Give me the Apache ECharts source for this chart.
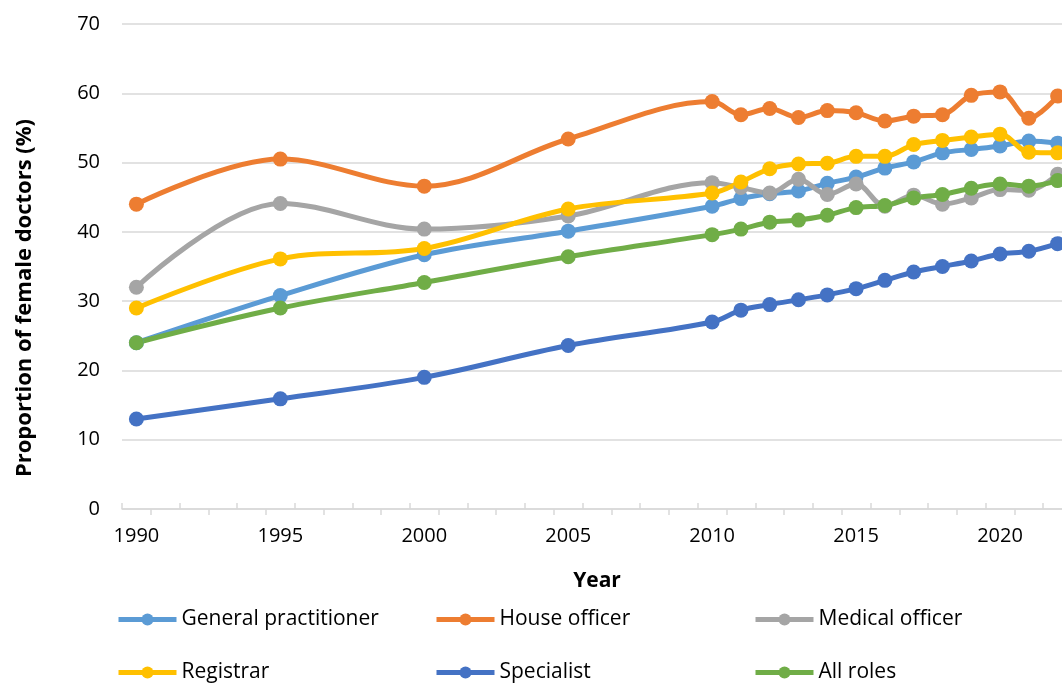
<!DOCTYPE html>
<html>
<head>
<meta charset="utf-8">
<script src="https://cdn.jsdelivr.net/npm/echarts@6/dist/echarts.min.js"></script>
<style>
  html, body { margin: 0; padding: 0; background: #fff; }
  #chart { width: 1062px; height: 683px; }
</style>
</head>
<body>
<div id="chart"></div>
<script>
// ---------- data ----------
const years = [];
for (let y = 1990; y <= 2022; y++) years.push(String(y));

const sampleYears = ['1990', '1995', '2000', '2005', '2010', '2011', '2012', '2013', '2014',
  '2015', '2016', '2017', '2018', '2019', '2020', '2021', '2022'];

const generalPractitioner = [24.0, 30.8, 36.7, 40.1, 43.7, 44.8, 45.5, 45.9, 47.0, 47.9, 49.2, 50.1, 51.4, 51.9, 52.4, 53.1, 52.8];
const houseOfficer        = [44.0, 50.5, 46.6, 53.4, 58.8, 56.9, 57.8, 56.5, 57.5, 57.2, 56.0, 56.7, 56.9, 59.7, 60.2, 56.4, 59.6];
const medicalOfficer      = [32.0, 44.1, 40.4, 42.3, 47.1, 46.4, 45.6, 47.6, 45.4, 46.9, 43.7, 45.3, 44.0, 44.9, 46.1, 46.0, 48.3];
const registrar           = [29.0, 36.1, 37.6, 43.3, 45.6, 47.2, 49.1, 49.8, 49.9, 50.9, 50.9, 52.6, 53.2, 53.7, 54.1, 51.5, 51.4];
const specialist          = [13.0, 15.9, 19.0, 23.6, 27.0, 28.7, 29.5, 30.2, 30.9, 31.8, 33.0, 34.2, 35.0, 35.8, 36.8, 37.2, 38.3];
const allRoles            = [24.0, 29.0, 32.7, 36.4, 39.6, 40.4, 41.4, 41.7, 42.4, 43.5, 43.8, 44.9, 45.4, 46.3, 46.9, 46.6, 47.4];

const yTicks = [0, 10, 20, 30, 40, 50, 60, 70];

const seriesDefs = [
  { name: 'General practitioner', values: generalPractitioner, color: '#5B9BD5' },
  { name: 'House officer',        values: houseOfficer,        color: '#ED7D31' },
  { name: 'Medical officer',      values: medicalOfficer,      color: '#A5A5A5' },
  { name: 'Registrar',            values: registrar,           color: '#FFC000' },
  { name: 'Specialist',           values: specialist,          color: '#4472C4' },
  { name: 'All roles',            values: allRoles,            color: '#70AD47' },
];

// legend slots (2 rows x 3 columns)
const legendPos = [
  [116, 609], [434, 609], [753, 609],
  [116, 662], [434, 662], [753, 662],
];

const FONT = '"Open Sans", Lato, sans-serif';
const GRID_C = '#D9D9D9';

const chart = echarts.init(document.getElementById('chart'), null, { renderer: 'canvas' });

const series = seriesDefs.map(s => ({
  name: s.name,
  type: 'line',
  smooth: 0.35,
  symbol: 'circle',
  symbolSize: 15,
  data: sampleYears.map((y, i) => [y, s.values[i]]),
  lineStyle: { color: s.color, width: 5 },
  itemStyle: { color: s.color },
  emphasis: { disabled: true },
}));

const legends = seriesDefs.map((s, i) => ({
  data: [s.name],
  left: legendPos[i][0],
  top: legendPos[i][1],
  padding: 0,
  itemWidth: 58,
  itemHeight: 15,
  itemGap: 3,
  selectedMode: false,
  lineStyle: { width: 5 },
  textStyle: { fontFamily: FONT, fontSize: 21, color: '#000' },
}));

chart.setOption({
  animation: false,
  backgroundColor: '#fff',
  grid: { left: 122, top: 24, width: 950, height: 485, outerBoundsMode: 'none', containLabel: false },
  legend: legends,
  xAxis: [
    {
      type: 'category',
      data: years,
      boundaryGap: true,
      name: 'Year',
      nameLocation: 'middle',
      nameGap: 62,
      nameTextStyle: { fontFamily: FONT, fontSize: 21, fontWeight: 'bold', color: '#000' },
      axisLine: { lineStyle: { color: GRID_C, width: 1.5 } },
      axisTick: { show: true, inside: true, length: 6, interval: (i) => i % 2 === 0,
        lineStyle: { color: GRID_C, width: 1.5 } },
      axisLabel: { interval: 4, margin: 17, fontFamily: FONT, fontSize: 20, color: '#000' },
      splitLine: { show: false },
    },
    {
      type: 'category',
      data: years,
      boundaryGap: true,
      position: 'bottom',
      axisLine: { show: false },
      axisTick: { show: true, length: 6, interval: (i) => i % 2 === 1,
        lineStyle: { color: GRID_C, width: 1.5 } },
      axisLabel: { show: false },
      splitLine: { show: false },
    },
  ],
  yAxis: {
    type: 'value',
    min: yTicks[0],
    max: yTicks[yTicks.length - 1],
    interval: 10,
    axisLine: { show: false },
    axisTick: { show: false },
    axisLabel: { margin: 22, fontFamily: FONT, fontSize: 20, color: '#000' },
    splitLine: { lineStyle: { color: GRID_C, width: 1.5 } },
  },
  graphic: [{
    type: 'text',
    x: 25,
    y: 298,
    rotation: Math.PI / 2,
    silent: true,
    style: {
      text: 'Proportion of female doctors (%)',
      fontFamily: FONT,
      fontSize: 22,
      fontWeight: 'bold',
      fill: '#000',
      align: 'center',
      verticalAlign: 'middle',
    },
  }],
  series,
});
</script>
</body>
</html>
